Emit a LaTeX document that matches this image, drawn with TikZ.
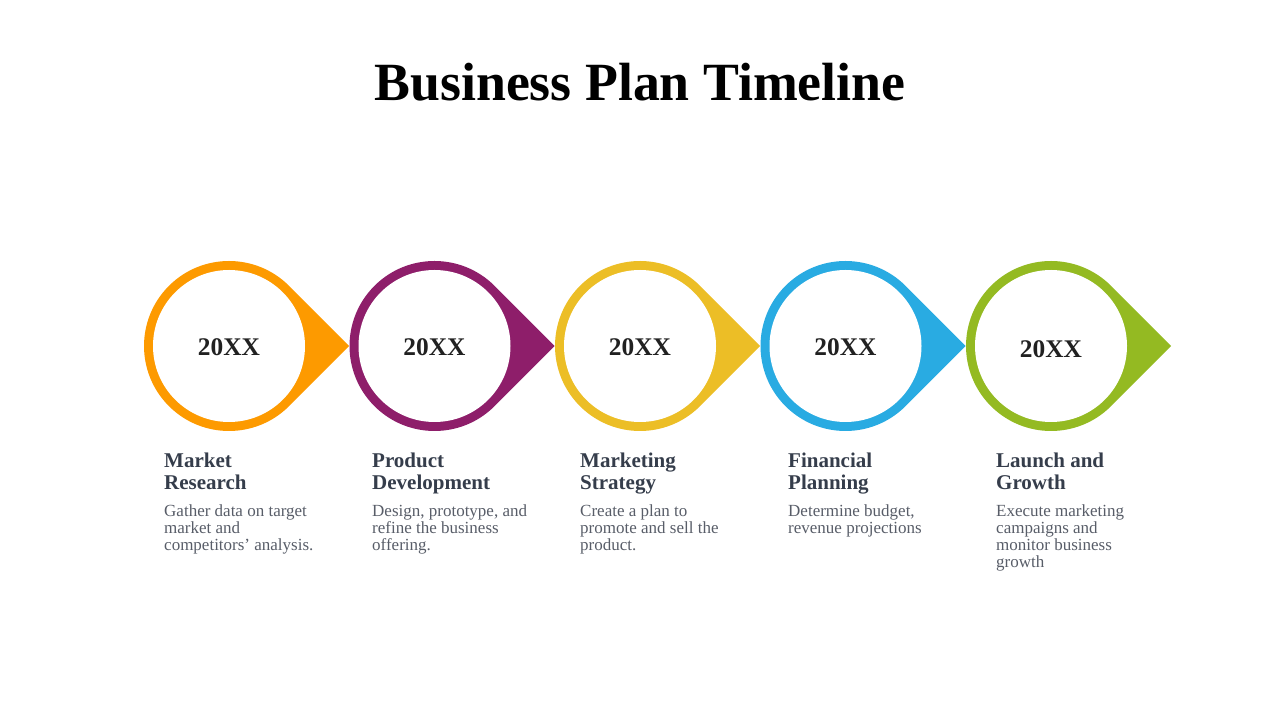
\documentclass[tikz,border=0pt]{standalone}
\usepackage{fontspec}
\setmainfont{Liberation Serif}
\usepackage{tikz}
\usepackage{xcolor}
\usetikzlibrary{calc}
\definecolor{cOrange}{HTML}{FD9A00}
\definecolor{cPurple}{HTML}{8E1E6A}
\definecolor{cYellow}{HTML}{ECBE26}
\definecolor{cBlue}{HTML}{29ABE2}
\definecolor{cGreen}{HTML}{94BA22}
\definecolor{headcol}{HTML}{353D4B}
\definecolor{desccol}{HTML}{585D68}
\tikzset{
    yr/.style={anchor=base, inner sep=0pt, text=black!87, font=\fontsize{25.4}{28}\selectfont\bfseries},
    hd/.style={anchor=north west, inner sep=0pt, align=left, text=headcol,
        font=\fontsize{21}{22.3}\selectfont\bfseries, execute at begin node=\strut},
    desc/.style={anchor=north west, inner sep=0pt, align=left, text=desccol,
        font=\fontsize{17}{17}\selectfont, execute at begin node=\strut}
}
\newcommand{\pin}[2]{%
    \fill[#2] ($(#1)+(120.2,0)$) -- ($(#1)+(45:85)$) arc[start angle=45, end angle=315, radius=85] -- cycle;
    \fill[white] (#1) circle[radius=76];
}

\begin{document}
\begin{tikzpicture}[x=1pt, y=1pt]
    \useasboundingbox (0, 0) rectangle (1280, 720);

    \node[anchor=base, inner sep=0pt, font=\fontsize{53.8}{60}\selectfont\bfseries] (title) at (640, 619) {Business Plan Timeline};

    \coordinate (c1) at (229, 374);
    \coordinate (c2) at (434.5, 374);
    \coordinate (c3) at (640, 374);
    \coordinate (c4) at (845.5, 374);
    \coordinate (c5) at (1051, 374);

    \pin{c1}{cOrange}
    \pin{c2}{cPurple}
    \pin{c3}{cYellow}
    \pin{c4}{cBlue}
    \pin{c5}{cGreen}

    \node[yr] (y1) at ($(c1)+(0,-10)$) {20XX};
    \node[yr] (y2) at ($(c2)+(0,-10)$) {20XX};
    \node[yr] (y3) at ($(c3)+(0,-10)$) {20XX};
    \node[yr] (y4) at ($(c4)+(0,-10)$) {20XX};
    \node[yr] (y5) at ($(c5)+(0,-12)$) {20XX};

    \node[hd] (h1) at (164, 267.5) {Market\\Research};
    \node[hd] (h2) at (372, 267.5) {Product\\Development};
    \node[hd] (h3) at (580, 267.5) {Marketing\\Strategy};
    \node[hd] (h4) at (788, 267.5) {Financial\\Planning};
    \node[hd] (h5) at (996, 267.5) {Launch and\\Growth};

    \node[desc] (d1) at (164, 215.9) {Gather data on target\\market and\\competitors' analysis.};
    \node[desc] (d2) at (372, 215.9) {Design, prototype, and\\refine the business\\offering.};
    \node[desc] (d3) at (580, 215.9) {Create a plan to\\promote and sell the\\product.};
    \node[desc] (d4) at (788, 215.9) {Determine budget,\\revenue projections};
    \node[desc] (d5) at (996, 215.9) {Execute marketing\\campaigns and\\monitor business\\growth};
\end{tikzpicture}
\end{document}
